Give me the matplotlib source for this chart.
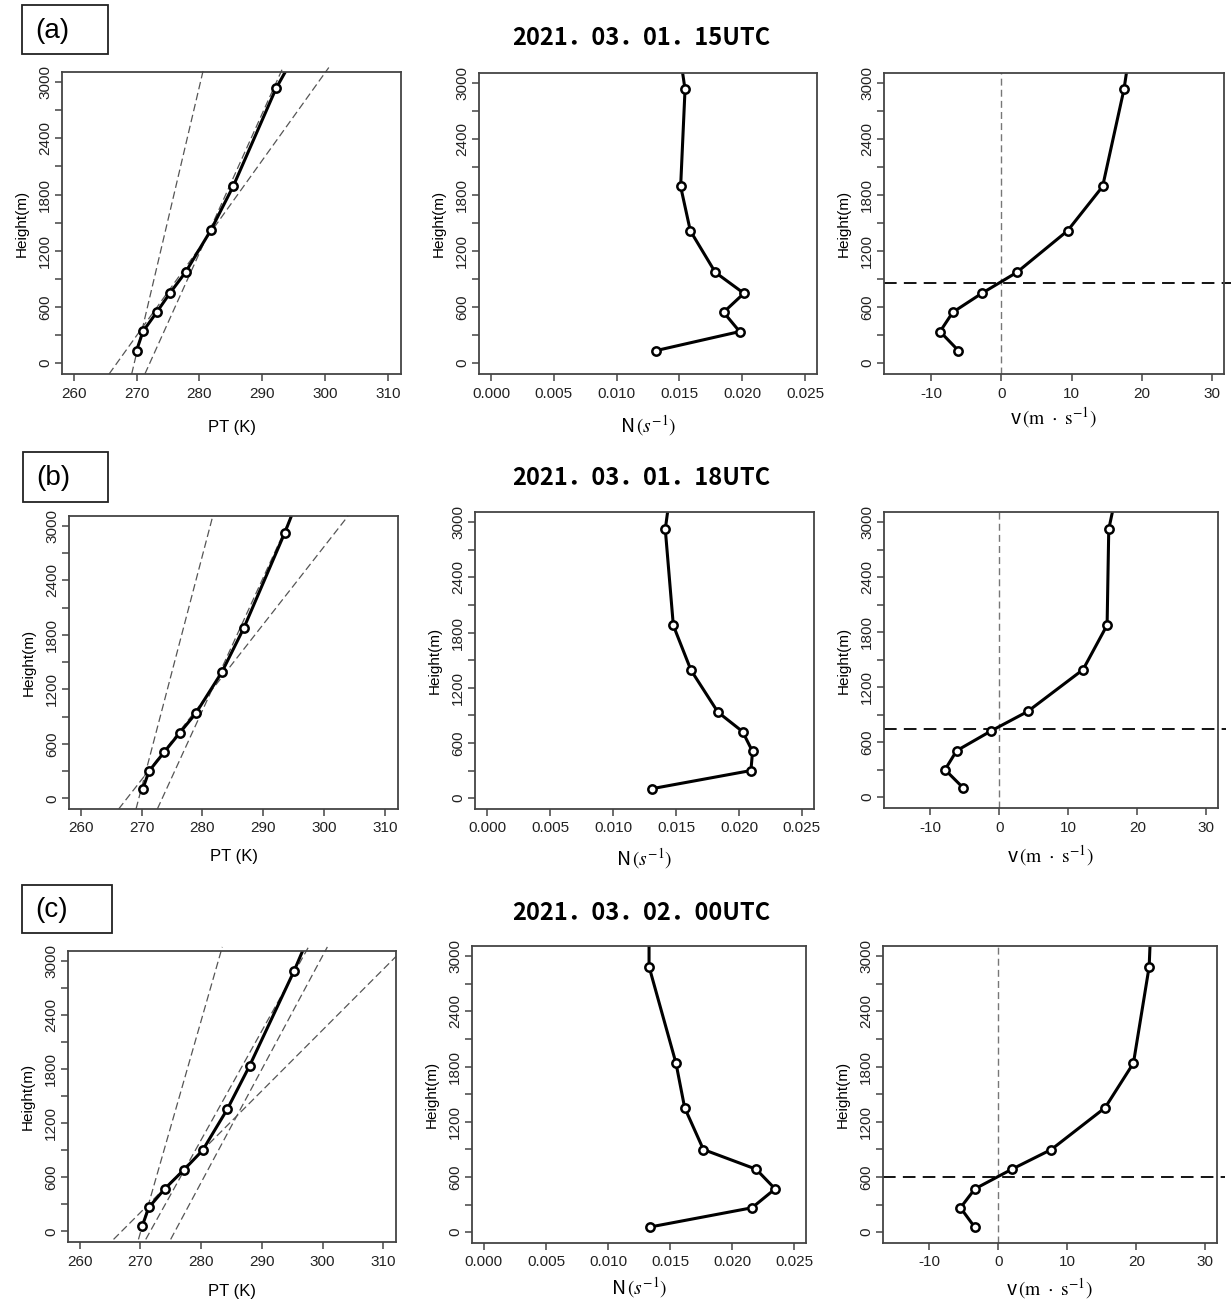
import matplotlib.pyplot as plt
from matplotlib.patches import Rectangle

plt.rcParams['font.family'] = ['Liberation Sans', 'DejaVu Sans']
plt.rcParams['mathtext.fontset'] = 'stix'
plt.rcParams['axes.unicode_minus'] = False

# sounding levels (m); last level lies above the plotted range
h_a = [132, 337, 544, 747, 972, 1418, 1893, 2935, 3500]
h_b = [103, 300, 507, 723, 935, 1391, 1877, 2923, 3500]
h_c = [56, 265, 470, 684, 898, 1352, 1837, 2886, 3500]

# potential temperature (K)
pt_a = [269.97, 271.0, 273.2, 275.3, 277.8, 281.8, 285.4, 292.2, 296.9]
pt_b = [270.2, 271.25, 273.7, 276.3, 278.9, 283.2, 286.8, 293.5, 296.9]
pt_c = [270.3, 271.4, 274.0, 277.2, 280.25, 284.3, 288.0, 295.3, 299.2]

# Brunt-Vaisala frequency (s-1)
n_a = [0.01311, 0.01980, 0.01852, 0.02014, 0.01786, 0.01587, 0.01510, 0.01545, 0.01483]
n_b = [0.01310, 0.02095, 0.02108, 0.02029, 0.01833, 0.01619, 0.01479, 0.01415, 0.01472]
n_c = [0.01339, 0.02161, 0.02347, 0.02194, 0.01769, 0.01618, 0.01548, 0.01331, 0.01331]

# v wind (m/s)
v_a = [-6.10, -8.72, -6.91, -2.78, 2.21, 9.43, 14.42, 17.46, 18.59]
v_b = [-5.24, -7.86, -6.17, -1.17, 4.13, 12.14, 15.63, 15.87, 17.5]
v_c = [-3.43, -5.47, -3.39, 1.98, 7.69, 15.48, 19.59, 21.87, 22.2]

# fitted PT lines: (T0, h0, T1, h1)
fit_a = [(269.2, -118, 280.7, 3158), (265.6, -118, 300.6, 3158), (271.3, -118, 293.3, 3158)]
fit_b = [(269.1, -118, 281.7, 3110), (266.25, -118, 303.9, 3110), (272.6, -118, 294.6, 3110)]
fit_c = [(269.7, -89, 283.5, 3155), (265.6, -89, 312.1, 3049),
         (270.9, -89, 297.7, 3155), (275.0, -89, 300.8, 3155)]

# height where v changes sign (m)
zero_a, zero_b, zero_c = 855, 743, 596

titles = ['2021．03．01．15UTC', '2021．03．01．18UTC', '2021．03．02．00UTC']
letters = ['(a)', '(b)', '(c)']

W, H = 1231, 1302
fig = plt.figure(figsize=(W / 100, H / 100), dpi=100)


def rect(x0, x1, y0, y1):
    return [x0 / W, 1 - y1 / H, (x1 - x0) / W, (y1 - y0) / H]


rows = [
    dict(h=h_a, pt=pt_a, n=n_a, v=v_a, fit=fit_a, zero=zero_a, title_y=38, lpad=(14, 9, 3),
         box=(22, 108, 5, 54),
         pos=[(62, 401, 72, 374), (479, 817, 73, 374), (884, 1224, 73, 374)]),
    dict(h=h_b, pt=pt_b, n=n_b, v=v_b, fit=fit_b, zero=zero_b, title_y=478, lpad=(10, 8, 6),
         box=(23, 108, 452, 502),
         pos=[(69, 398, 516, 809), (475, 814, 512, 809), (884, 1218, 512, 808)]),
    dict(h=h_c, pt=pt_c, n=n_c, v=v_c, fit=fit_c, zero=zero_c, title_y=913, lpad=(11, 4, 5),
         box=(22, 112, 885, 933),
         pos=[(68, 396, 951, 1242), (472, 806, 946, 1243), (883, 1217, 946, 1243)]),
]

spine_c = '#444444'
line_kw = dict(color='black', lw=2.2, marker='o', ms=6, mfc='white',
               mec='black', mew=1.8)
cjk = ['Noto Sans CJK JP', 'DejaVu Sans']


def style(ax):
    ax.set_ylim(-118, 3110)
    ax.set_yticks(range(0, 3001, 300))
    ax.set_yticklabels([str(t) if t % 600 == 0 else '' for t in range(0, 3001, 300)],
                       rotation=90, va='center')
    ax.tick_params(direction='out', length=5, width=1.1, color=spine_c,
                   labelsize=11, labelcolor='#222222')
    ax.tick_params(axis='y', pad=2)
    ax.tick_params(axis='x', pad=4)
    for s in ax.spines.values():
        s.set_color(spine_c)
        s.set_linewidth(1.3)
    ax.set_ylabel('Height(m)', fontsize=11, labelpad=7)


for i, r in enumerate(rows):
    pad_pt, pad_n, pad_v = r['lpad']

    # PT panel
    ax = fig.add_axes(rect(*r['pos'][0]))
    for t0, y0, t1, y1 in r['fit']:
        ax.plot([t0, t1], [y0, y1], color='#555555', lw=0.9, ls=(0, (6, 3)), clip_on=False)
    ax.plot(r['pt'], r['h'], **line_kw)
    ax.set_xlim(258.1, 312.1)
    ax.set_xticks(range(260, 311, 10))
    style(ax)
    ax.set_xlabel('PT (K)', fontsize=12, labelpad=pad_pt)

    # N panel
    ax = fig.add_axes(rect(*r['pos'][1]))
    ax.plot(r['n'], r['h'], **line_kw)
    ax.set_xlim(-0.00096, 0.02596)
    ax.set_xticks([0, 0.005, 0.01, 0.015, 0.02, 0.025])
    ax.set_xticklabels(['0.000', '0.005', '0.010', '0.015', '0.020', '0.025'])
    style(ax)
    ax.set_xlabel(r'N$\,(s^{-1})$', fontsize=14, labelpad=pad_n, family=cjk)

    # v panel
    ax = fig.add_axes(rect(*r['pos'][2]))
    ax.axvline(0, color='#777777', lw=1.0, ls=(0, (5, 3)))
    ax.axhline(r['zero'], xmin=0, xmax=1.025, color='black', lw=1.3,
               ls=(0, (7, 4)), clip_on=False)
    ax.plot(r['v'], r['h'], **line_kw)
    ax.set_xlim(-16.7, 31.7)
    ax.set_xticks([-10, 0, 10, 20, 30])
    style(ax)
    ax.set_xlabel(r'v$\,(\mathrm{m}\ \cdot\ \mathrm{s}^{-1})$', fontsize=14,
                  labelpad=pad_v, family=cjk)

    # title and panel letter
    fig.text(641 / W, 1 - r['title_y'] / H, titles[i], ha='center', va='center',
             fontsize=17, fontweight='bold', family=cjk)
    x0, x1, y0, y1 = r['box']
    fig.add_artist(Rectangle((x0 / W, 1 - y1 / H), (x1 - x0) / W, (y1 - y0) / H,
                             transform=fig.transFigure, fill=False,
                             edgecolor='#222222', lw=1.3))
    fig.text((x0 + 13) / W, 1 - ((y0 + y1) / 2 + 1) / H, letters[i], ha='left',
             va='center', fontsize=20)

fig.savefig('out.png', dpi=100)
